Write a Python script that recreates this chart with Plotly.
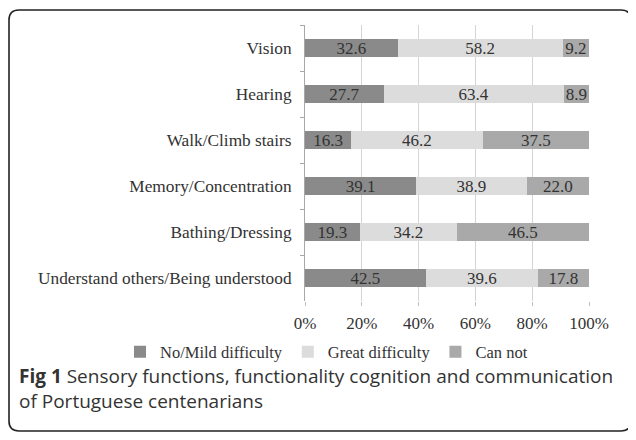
import plotly.graph_objects as go

categories = ["Vision", "Hearing", "Walk/Climb stairs", "Memory/Concentration",
              "Bathing/Dressing", "Understand others/Being understood"]
no_mild = [32.6, 27.7, 16.3, 39.1, 19.3, 42.5]
great = [58.2, 63.4, 46.2, 38.9, 34.2, 39.6]
can_not = [9.2, 8.9, 37.5, 22.0, 46.5, 17.8]
series_names = ["No/Mild difficulty", "Great difficulty", "Can not"]
tick_vals = [0, 20, 40, 60, 80, 100]
tick_text = ["0%", "20%", "40%", "60%", "80%", "100%"]

# page body has an 8px margin; work in window coordinates and convert
OFF = 8
W, H = 628, 432
L, R, T, B = 305 - OFF, 628 - (589 - OFF), 25 - OFF, 432 - (301 - OFF)
PW, PH = W - L - R, H - T - B


def px(xw):
    return (xw - OFF - L) / PW


def py(yw):
    return (H - B - (yw - OFF)) / PH


colors = ["#8a8a8a", "#dcdcdc", "#a9a9a9"]
serif = "Liberation Serif"
txt = "#333333"

fig = go.Figure()
for name, vals, col in zip(series_names, [no_mild, great, can_not], colors):
    fig.add_trace(go.Bar(
        y=categories, x=vals, name=name, orientation="h",
        marker=dict(color=col, line=dict(width=0)),
        text=[f"{v:.1f}" for v in vals], textposition="inside",
        insidetextanchor="middle", constraintext="none",
        textfont=dict(family=serif, size=17, color=txt),
        hoverinfo="skip",
    ))

fig.update_layout(
    width=W, height=H, barmode="stack", bargap=0.59,
    margin=dict(l=L, r=R, t=T, b=B),
    paper_bgcolor="white", plot_bgcolor="white",
    font=dict(family=serif, size=17, color=txt),
    showlegend=True,
    legend=dict(orientation="h", x=px(120), xanchor="left", y=py(352), yanchor="middle",
                font=dict(family=serif, size=16.5, color=txt), traceorder="normal",
                itemwidth=30, bgcolor="rgba(0,0,0,0)"),
    xaxis=dict(range=[0, 100], tickvals=tick_vals, ticktext=tick_text, showgrid=True,
               gridcolor="#d4d4d4", gridwidth=1, zeroline=False, showline=False,
               ticks="outside", ticklen=4, tickcolor="#bdbdbd",
               tickfont=dict(family=serif, size=17, color=txt), ticklabelstandoff=3,
               fixedrange=True),
    yaxis=dict(type="category", autorange="reversed", showline=True, linecolor="#a8a8a8",
               linewidth=1, ticks="outside", tickson="boundaries", ticklen=4,
               tickcolor="#a8a8a8", showgrid=False,
               tickfont=dict(family=serif, size=17.3, color=txt), ticklabelstandoff=9),
)

# rounded frame
x0, x1, y0, y1, r = px(9), px(631), py(10), py(431), 10
rx, ry = r / PW, r / PH
path = (f"M {x0+rx},{y0} L {x1-rx},{y0} Q {x1},{y0} {x1},{y0-ry} "
        f"L {x1},{y1+ry} Q {x1},{y1} {x1-rx},{y1} L {x0+rx},{y1} "
        f"Q {x0},{y1} {x0},{y1+ry} L {x0},{y0-ry} Q {x0},{y0} {x0+rx},{y0} Z")
fig.add_shape(type="path", path=path, xref="paper", yref="paper",
              line=dict(color="#222222", width=1.6), fillcolor="rgba(0,0,0,0)", layer="above")

cap_font = dict(family="Open Sans", size=19, color=txt)
fig.add_annotation(text="<b>Fig 1</b> Sensory functions, functionality cognition and communication",
                   xref="paper", yref="paper", x=px(17), y=py(376), xanchor="left",
                   yanchor="middle", showarrow=False, font=cap_font)
fig.add_annotation(text="of Portuguese centenarians",
                   xref="paper", yref="paper", x=px(17), y=py(401), xanchor="left",
                   yanchor="middle", showarrow=False, font=cap_font)

fig.write_html("out.html")
